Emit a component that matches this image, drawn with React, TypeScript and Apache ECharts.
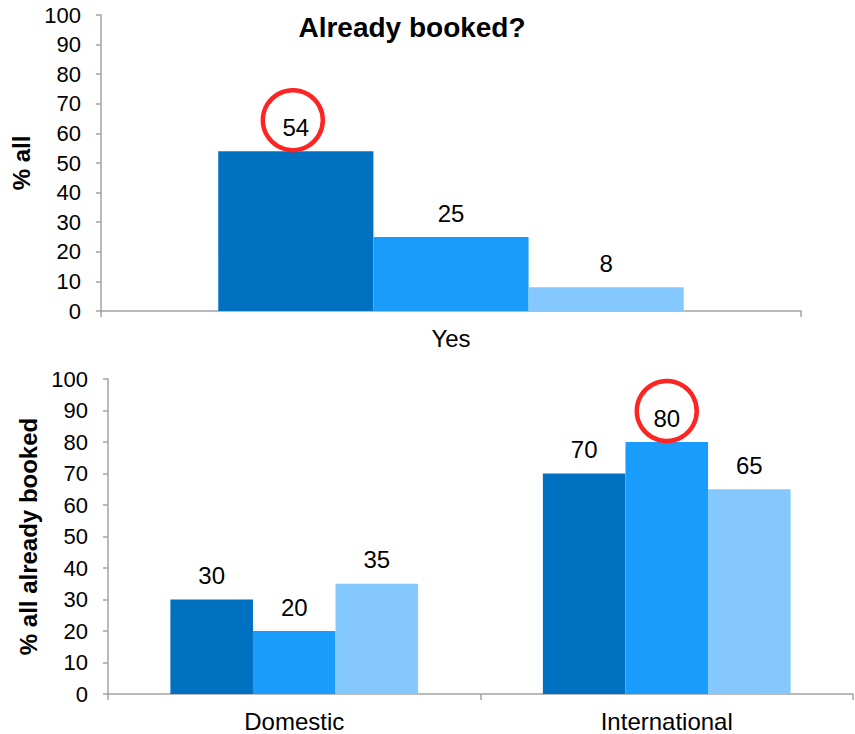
import React, { useEffect, useRef } from "react";
import * as echarts from "echarts";

const chartTitle = "Already booked?";
const topCategories = ["Yes"];
const topSeriesA = [54];
const topSeriesB = [25];
const topSeriesC = [8];
const topAxisName = "% all";

const bottomCategories = ["Domestic", "International"];
const bottomSeriesA = [30, 70];
const bottomSeriesB = [20, 80];
const bottomSeriesC = [35, 65];
const bottomAxisName = "% all already booked";

const yMin = 0;
const yMax = 100;
const yStep = 10;

const colors = ["#0070c0", "#1a9cfd", "#84c8fe"];
const FONT = "'Liberation Sans', Arial, sans-serif";
const AXIS_COLOR = "#a3a3a3";

export default function App() {
  const ref = useRef<HTMLDivElement>(null);

  useEffect(() => {
    if (!ref.current) return;
    const chart = echarts.init(ref.current, null, { renderer: "svg" });

    const circleMark = (cat: string, val: number, dx: number) => ({
      symbol: "circle",
      symbolSize: 60,
      symbolOffset: [dx, -31],
      silent: true,
      itemStyle: { color: "rgba(0,0,0,0)", borderColor: "#fd2424", borderWidth: 4.5 },
      label: { show: false },
      data: [{ coord: [cat, val] }],
    });

    const barLabel = {
      show: true,
      position: "top",
      distance: 12,
      color: "#000",
      fontSize: 24,
      fontFamily: FONT,
    };

    const xAxisCommon = {
      type: "category",
      axisLine: { show: true, lineStyle: { color: AXIS_COLOR, width: 1.5 } },
      axisTick: { show: true, alignWithLabel: false, length: 6, lineStyle: { color: AXIS_COLOR, width: 1.5 } },
      axisLabel: { color: "#000", fontSize: 24, fontFamily: FONT, margin: 15 },
      splitLine: { show: false },
    };

    const yAxisCommon = {
      type: "value",
      min: yMin,
      max: yMax,
      interval: yStep,
      axisLine: { show: true, lineStyle: { color: AXIS_COLOR, width: 1.5 } },
      axisTick: { show: true, length: 5, lineStyle: { color: AXIS_COLOR, width: 1.5 } },
      axisLabel: { color: "#000", fontSize: 22, fontFamily: FONT, margin: 20 },
      splitLine: { show: false },
      nameLocation: "middle",
      nameRotate: 90,
      nameTextStyle: { color: "#000", fontSize: 24, fontWeight: "bold", fontFamily: FONT },
    };

    const topData = [topSeriesA, topSeriesB, topSeriesC];
    const bottomData = [bottomSeriesA, bottomSeriesB, bottomSeriesC];

    const series: any[] = [];
    topData.forEach((d, i) => {
      const s: any = {
        type: "bar",
        name: "top-" + i,
        xAxisIndex: 0,
        yAxisIndex: 0,
        data: d,
        barGap: "0%",
        barCategoryGap: "33.5%",
        itemStyle: { color: colors[i] },
        label: barLabel,
      };
      if (i === 0) s.markPoint = circleMark(topCategories[0], d[0], -3);
      series.push(s);
    });
    bottomData.forEach((d, i) => {
      const s: any = {
        type: "bar",
        name: "bottom-" + i,
        xAxisIndex: 1,
        yAxisIndex: 1,
        data: d,
        barGap: "0%",
        barCategoryGap: "33.5%",
        itemStyle: { color: colors[i] },
        label: barLabel,
      };
      if (i === 1) s.markPoint = circleMark(bottomCategories[1], d[1], 0);
      series.push(s);
    });

    chart.setOption({
      animation: false,
      textStyle: { fontFamily: FONT },
      grid: [
        { left: 101, right: 54, top: 15, height: 296 },
        { left: 108, right: 2, top: 379, height: 315 },
      ],
      xAxis: [
        { ...xAxisCommon, gridIndex: 0, data: topCategories },
        { ...xAxisCommon, gridIndex: 1, data: bottomCategories },
      ],
      yAxis: [
        { ...yAxisCommon, gridIndex: 0, name: topAxisName, nameGap: 58 },
        { ...yAxisCommon, gridIndex: 1, name: bottomAxisName, nameGap: 68 },
      ],
      graphic: [
        {
          type: "text",
          x: 412,
          y: 27,
          style: {
            text: chartTitle,
            fontSize: 28,
            fontWeight: "bold",
            fontFamily: FONT,
            fill: "#000",
            align: "center",
            verticalAlign: "middle",
          },
        },
      ],
      series,
    });

    return () => chart.dispose();
  }, []);

  return (
    <div
      ref={ref}
      style={{ position: "fixed", left: 0, top: 0, width: 855, height: 734, background: "#fff" }}
    />
  );
}
